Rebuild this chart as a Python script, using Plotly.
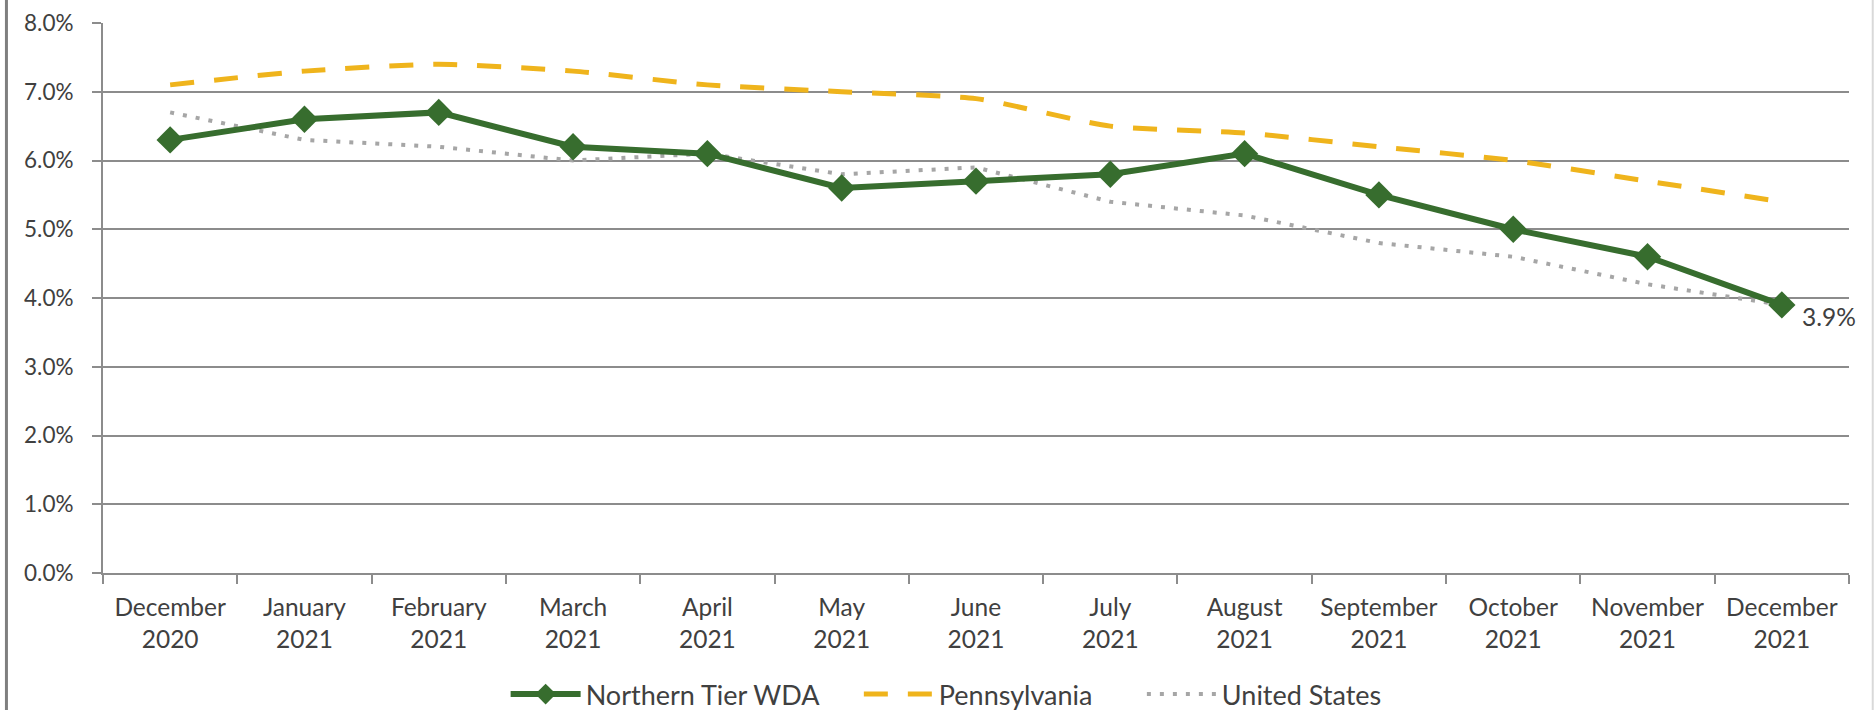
import plotly.graph_objects as go

categories = ["December<br>2020", "January<br>2021", "February<br>2021", "March<br>2021",
              "April<br>2021", "May<br>2021", "June<br>2021", "July<br>2021",
              "August<br>2021", "September<br>2021", "October<br>2021",
              "November<br>2021", "December<br>2021"]
northern_tier = [6.3, 6.6, 6.7, 6.2, 6.1, 5.6, 5.7, 5.8, 6.1, 5.5, 5.0, 4.6, 3.9]
pennsylvania = [7.1, 7.3, 7.4, 7.3, 7.1, 7.0, 6.9, 6.5, 6.4, 6.2, 6.0, 5.7, 5.4]
united_states = [6.7, 6.3, 6.2, 6.0, 6.1, 5.8, 5.9, 5.4, 5.2, 4.8, 4.6, 4.2, 3.9]
y_ticks = [0, 1, 2, 3, 4, 5, 6, 7, 8]

FONT = "Lato"
TXT = "#404040"
GRID = "#8c8c8c"
TICK_SIZE = 24.5
YTICK_SIZE = 22.5
LEG_SIZE = 27

fig = go.Figure()
fig.add_trace(go.Scatter(
    x=categories, y=pennsylvania, name="Pennsylvania", mode="lines",
    line=dict(color="#EFB41C", width=5, dash="24px,20px", shape="spline", smoothing=0.6),
    legend="legend2",
))
fig.add_trace(go.Scatter(
    x=categories, y=united_states, name="United States", mode="lines",
    line=dict(color="#A6A6A6", width=4, dash="4px,9px"),
    legend="legend3",
))
fig.add_trace(go.Scatter(
    x=categories, y=northern_tier, name="Northern Tier WDA", mode="lines+markers",
    line=dict(color="#376D2E", width=6),
    marker=dict(symbol="diamond", size=21, color="#376D2E"),
    legend="legend",
))

leg_common = dict(orientation="h", y=-0.221, yanchor="middle", xanchor="left",
                  font=dict(family=FONT, size=LEG_SIZE, color=TXT),
                  itemwidth=70, bgcolor="rgba(0,0,0,0)")

fig.update_layout(
    width=1875, height=710, autosize=False,
    margin=dict(l=103, r=26, t=23, b=137, autoexpand=False),
    paper_bgcolor="white", plot_bgcolor="white",
    font=dict(family=FONT, size=TICK_SIZE, color=TXT),
    showlegend=True,
    legend=dict(x=0.2306, **leg_common),
    legend2=dict(x=0.4329, **leg_common),
    legend3=dict(x=0.5950, **leg_common),
    annotations=[dict(
        x=categories[-1], y=northern_tier[-1], xref="x", yref="y",
        text=f"{northern_tier[-1]:.1f}%", showarrow=False,
        xanchor="left", yanchor="middle", xshift=18, yshift=-12,
        font=dict(family=FONT, size=TICK_SIZE, color=TXT),
    )],
    shapes=[
        dict(type="line", xref="paper", yref="paper", x0=-0.0553, x1=-0.0553, y0=-0.3, y1=1.05,
             line=dict(color="#7f7f7f", width=3)),
        dict(type="line", xref="paper", yref="paper", x0=1.0136, x1=1.0136, y0=-0.3, y1=1.05,
             line=dict(color="#d9d9d9", width=2)),
    ],
)

fig.update_xaxes(
    type="category", range=[-0.5, len(categories) - 0.5], automargin=False,
    showline=True, linecolor=GRID, linewidth=2,
    ticks="outside", tickson="boundaries", ticklen=9, tickcolor=GRID, tickwidth=2,
    showgrid=False, tickfont=dict(family=FONT, size=TICK_SIZE, color=TXT),
    ticklabelstandoff=12,
)
fig.update_yaxes(
    range=[0, 8], tickvals=y_ticks, ticktext=[f"{v:.1f}%" for v in y_ticks], automargin=False,
    showline=True, linecolor=GRID, linewidth=2,
    ticks="outside", ticklen=9, tickcolor=GRID, tickwidth=2,
    showgrid=True, gridcolor=GRID, gridwidth=2, zeroline=False,
    tickfont=dict(family=FONT, size=YTICK_SIZE, color=TXT), ticklabelstandoff=14,
)

fig.write_html(
    "out.html",
    config={"displayModeBar": False},
    post_script="document.body.style.margin='0';document.body.style.overflow='hidden';",
)
